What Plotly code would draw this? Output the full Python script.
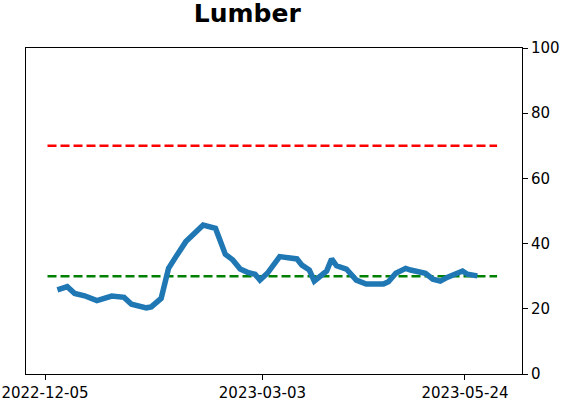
import plotly.graph_objects as go

# --- data ---
dates = [
    "2022-12-10", "2022-12-14", "2022-12-17", "2022-12-21", "2022-12-26",
    "2022-12-29", "2023-01-01", "2023-01-06", "2023-01-09", "2023-01-15",
    "2023-01-17", "2023-01-21", "2023-01-24", "2023-01-27", "2023-01-31",
    "2023-02-03", "2023-02-07", "2023-02-12", "2023-02-14", "2023-02-16",
    "2023-02-19", "2023-02-22", "2023-02-25", "2023-02-28", "2023-03-02",
    "2023-03-05", "2023-03-10", "2023-03-14", "2023-03-17", "2023-03-19",
    "2023-03-22", "2023-03-24", "2023-03-26", "2023-03-29", "2023-03-31",
    "2023-04-02", "2023-04-06", "2023-04-08", "2023-04-10", "2023-04-14",
    "2023-04-21", "2023-04-23", "2023-04-26", "2023-04-30", "2023-05-02",
    "2023-05-08", "2023-05-11", "2023-05-14", "2023-05-17", "2023-05-23",
    "2023-05-25", "2023-05-29",
]
values = [
    25.8, 26.8, 24.7, 24.0, 22.5,
    23.0, 23.9, 23.5, 21.4, 20.3,
    20.6, 23.2, 32.4, 36.0, 40.6,
    42.8, 45.7, 44.7, 41.1, 36.7,
    35.0, 32.2, 31.2, 30.6, 28.8,
    30.9, 36.0, 35.8, 35.3, 33.4,
    31.9, 28.5, 29.8, 31.6, 35.3,
    33.2, 32.2, 30.7, 28.8, 27.6,
    27.6, 28.3, 30.9, 32.4, 31.9,
    30.9, 29.1, 28.5, 29.7, 31.6,
    30.6, 30.1,
]
upper_level = 70
lower_level = 30
level_span = ["2022-12-06", "2023-06-06"]
tick_dates = ["2022-12-05", "2023-03-03", "2023-05-24"]
title = "Lumber"

FONT = "DejaVu Sans"

fig = go.Figure()

fig.add_scatter(
    x=level_span, y=[upper_level] * 2, mode="lines",
    line=dict(color="#ff0000", width=2.5, dash="9px,4px"),
    hoverinfo="skip",
)
fig.add_scatter(
    x=level_span, y=[lower_level] * 2, mode="lines",
    line=dict(color="#008000", width=2.5, dash="9px,4px"),
    hoverinfo="skip",
)
fig.add_scatter(
    x=dates, y=values, mode="lines",
    line=dict(color="#1f77b4", width=5.5, shape="linear"),
)

fig.update_layout(
    width=562, height=402,
    title=dict(
        text=f"<b>{title}</b>",
        font=dict(size=25, family=FONT, color="black"),
        x=0.44, xanchor="center", y=0.967, yanchor="middle",
    ),
    font=dict(family=FONT, size=15, color="black"),
    plot_bgcolor="white",
    paper_bgcolor="white",
    margin=dict(l=26, r=40, t=48, b=28, autoexpand=False),
    showlegend=False,
)
fig.update_xaxes(
    type="date", automargin=False,
    range=["2022-11-27 07:00", "2023-06-16 02:00"],
    tickvals=tick_dates, ticktext=tick_dates,
    showgrid=False, zeroline=False,
    showline=True, linecolor="black", linewidth=1, mirror=True,
    ticks="outside", ticklen=5, tickcolor="black",
    tickfont=dict(size=15, family=FONT, color="black"),
)
fig.update_yaxes(
    range=[0, 100], side="right", automargin=False,
    tickvals=[0, 20, 40, 60, 80, 100],
    showgrid=False, zeroline=False,
    showline=True, linecolor="black", linewidth=1, mirror=True,
    ticks="outside", ticklen=5, tickcolor="black",
    tickfont=dict(size=15, family=FONT, color="black"),
)

# the page's default body margin would shift the figure by 8px
fig.write_html(
    "out.html",
    config={"displayModeBar": False},
    post_script="document.body.style.margin='0';",
)
